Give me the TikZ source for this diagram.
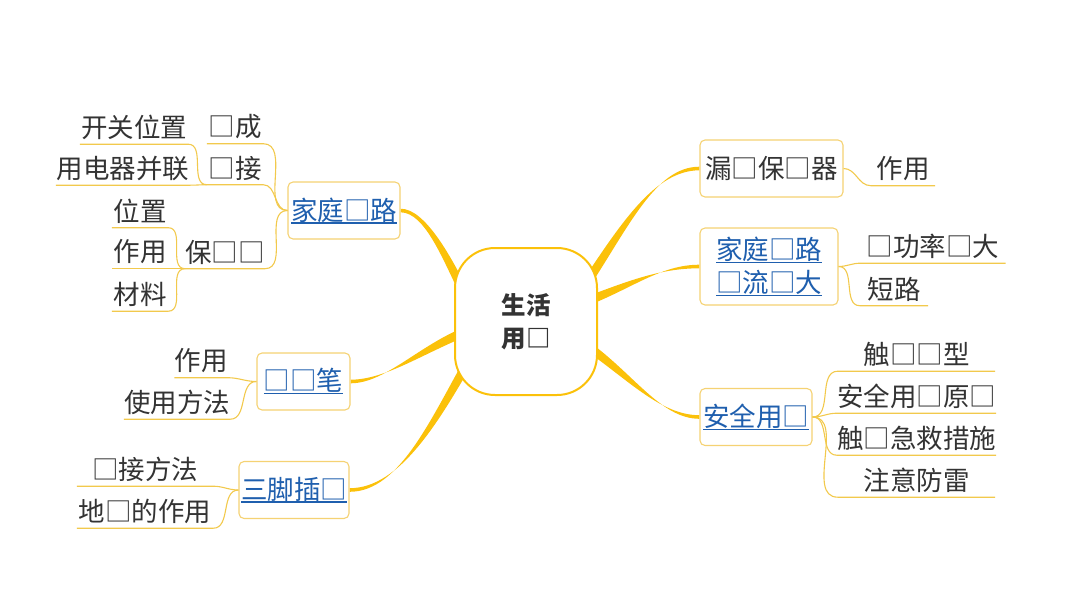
\documentclass[tikz,border=0pt]{standalone}
\usepackage{fontspec}
\setmainfont{Noto Sans CJK SC}
\usetikzlibrary{calc,backgrounds}
\definecolor{branchcol}{HTML}{FBC10A}
\definecolor{boxcol}{HTML}{F5D273}
\definecolor{subcol}{HTML}{F2C94C}
\definecolor{txt}{HTML}{333333}
\definecolor{lnkcol}{HTML}{1F5FAE}
\newcommand\lnk[1]{\setbox0\hbox{#1}\usebox0\llap{\rule[-3.5pt]{\wd0}{1.4pt}}}
\newcommand\fz{\fontsize{26.5}{33}\selectfont}
% #1 start, #2 ctrl1, #3 ctrl2, #4 end, #5 half-width vector at start
\newcommand\mainbranch[5]{%
  \fill[branchcol] ($#1+#5$) .. controls ($#2+#5$) and ($#3+(0,-1.8)$) .. ($#4+(0,-1.8)$)
    -- ($#4+(0,1.8)$) .. controls ($#3+(0,1.8)$) and ($#2-#5$) .. ($#1-#5$) -- cycle;}
\tikzset{
  ctrnode/.style={draw=branchcol, line width=2pt, fill=white, rounded corners=40pt,
    minimum width=142pt, minimum height=147pt, align=center, inner sep=0pt,
    font=\fontsize{24.5}{33}\selectfont\bfseries, text=txt},
  topic/.style={draw=boxcol, line width=1.1pt, fill=white, rounded corners=5pt,
    minimum height=57pt, inner sep=0pt, align=center, font=\fz},
  leaf/.style={inner xsep=0pt, inner ysep=0pt, minimum height=33pt, font=\fz, text=txt},
  sub/.style={draw=subcol, line width=1.1pt}
}
\begin{document}
\begin{tikzpicture}[x=1pt,y=-1pt]
\useasboundingbox (0,0) rectangle (1066,600);

% central topic
\node[ctrnode] (ctr) at (526,321.5) {生活\\用□};

% main topics
\node[topic, text=lnkcol, minimum width=112pt] (hc) at (344,210.5) {\lnk{家庭□路}};
\node[topic, text=lnkcol, minimum width=93pt] (cb) at (303.5,381.5) {\lnk{□□笔}};
\node[topic, text=lnkcol, minimum width=110pt] (sj) at (294,490) {\lnk{三脚插□}};
\node[topic, text=txt, minimum width=143pt] (ld) at (771.5,168.5) {漏□保□器};
\node[topic, text=lnkcol, minimum width=138pt, minimum height=77pt] (dl) at (769,266.5) {\lnk{家庭□路}\\\lnk{□流□大}};
\node[topic, text=lnkcol, minimum width=112pt] (aq) at (756,417) {\lnk{安全用□}};

% right leaves
\node[leaf, minimum width=64pt] (ld1) at (903,169) {作用};
\node[leaf, minimum width=145pt] (dl1) at (933,246.5) {□功率□大};
\node[leaf, minimum width=68pt] (dl2) at (894,289) {短路};
\node[leaf, minimum width=157pt] (aq1) at (916.5,354.5) {触□□型};
\node[leaf, minimum width=157pt] (aq2) at (916.5,396.5) {安全用□原□};
\node[leaf, minimum width=157pt] (aq3) at (916.5,438.5) {触□急救措施};
\node[leaf, minimum width=157pt] (aq4) at (916.5,480.5) {注意防雷};

% left leaves
\node[leaf, minimum width=56pt] (hc1) at (235,127) {□成};
\node[leaf, minimum width=56pt] (hc2) at (235,168) {□接};
\node[leaf, minimum width=78pt] (hc3) at (225,252) {保□□};
\node[leaf, minimum width=108pt] (hc21) at (134,127.5) {开关位置};
\node[leaf, minimum width=134pt] (hc22) at (123,168.5) {用电器并联};
\node[leaf, minimum width=56pt] (hc31) at (140,211) {位置};
\node[leaf, minimum width=56pt] (hc32) at (140,252) {作用};
\node[leaf, minimum width=56pt] (hc33) at (140,294.5) {材料};
\node[leaf, minimum width=53pt] (cb1) at (201,361) {作用};
\node[leaf, minimum width=106pt] (cb2) at (177,402.5) {使用方法};
\node[leaf, minimum width=136pt] (sj1) at (145,469.5) {□接方法};
\node[leaf, minimum width=136pt] (sj2) at (145,511.5) {地□的作用};

% sub connectors
\draw[sub] (ld.east) to[out=0,in=180] (ld1.south west) -- (ld1.south east);
\foreach \c in {dl1,dl2}
  \draw[sub] (dl.east) to[out=0,in=180] (\c.south west) -- (\c.south east);
\foreach \c in {aq1,aq2,aq3,aq4}
  \draw[sub] (aq.east) to[out=0,in=180] (\c.south west) -- (\c.south east);
\foreach \c in {hc1,hc2,hc3}
  \draw[sub] (hc.west) to[out=180,in=0] (\c.south east) -- (\c.south west);
\foreach \c in {hc21,hc22}
  \draw[sub] (hc2.south west) to[out=180,in=0] (\c.south east) -- (\c.south west);
\foreach \c in {hc31,hc32,hc33}
  \draw[sub] (hc3.south west) to[out=180,in=0] (\c.south east) -- (\c.south west);
\foreach \c in {cb1,cb2}
  \draw[sub] (cb.west) to[out=180,in=0] (\c.south east) -- (\c.south west);
\foreach \c in {sj1,sj2}
  \draw[sub] (sj.west) to[out=180,in=0] (\c.south east) -- (\c.south west);

% main branches
\begin{scope}[on background layer]
\mainbranch{(ctr.center)+(-60,-25)}{(447,258)}{(425,210.5)}{(hc.east)}{(4,-2)}
\mainbranch{(ctr.center)+(-60,10)}{(420,350)}{(385,381.5)}{(cb.east)}{(1.7,4.2)}
\mainbranch{(ctr.center)+(-52,30)}{(435,420)}{(400,490)}{(sj.east)}{(3.9,2.2)}
\mainbranch{(ctr.center)+(55,-30)}{(625,225)}{(655,168.5)}{(ld.west)}{(3.75,2.5)}
\mainbranch{(ctr.center)+(55,-18)}{(630,285)}{(660,266.5)}{(dl.west)}{(1.6,4.2)}
\mainbranch{(ctr.center)+(55,20)}{(630,375)}{(660,417)}{(aq.west)}{(-2.5,3.7)}
\end{scope}
\end{tikzpicture}
\end{document}
